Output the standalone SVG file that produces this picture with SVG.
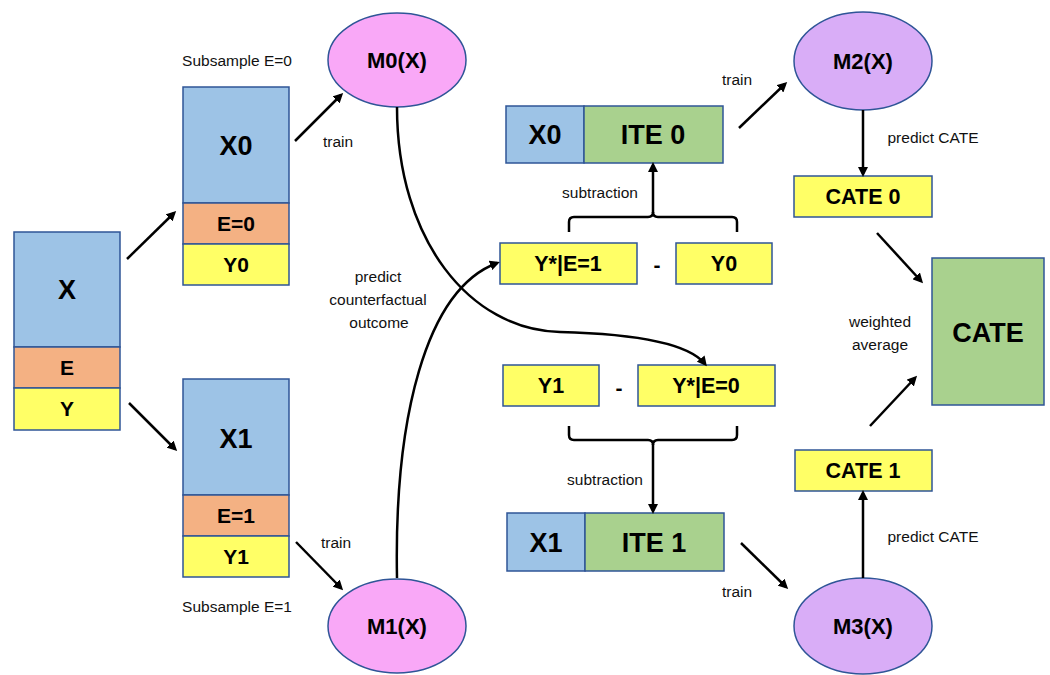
<svg xmlns="http://www.w3.org/2000/svg" width="1050" height="675" viewBox="0 0 1050 675">
<defs>
<style>
.bl{fill:#9DC3E6;stroke:#2F5597;stroke-width:1.5}
.or{fill:#F4B183;stroke:#2F5597;stroke-width:1.5}
.ye{fill:#FFFF66;stroke:#2F5597;stroke-width:1.5}
.gr{fill:#A9D18E;stroke:#2F5597;stroke-width:1.5}
.pk{fill:#F9A8F7;stroke:#2F5597;stroke-width:1.5}
.pu{fill:#D9ADF7;stroke:#2F5597;stroke-width:1.5}
.b{font-family:"Liberation Sans",Arial,sans-serif;font-weight:bold;fill:#000;text-anchor:middle}
.t{font-family:"Liberation Sans",Arial,sans-serif;font-size:15.5px;fill:#111;text-anchor:middle}
.c{fill:none;stroke:#000;stroke-width:2.5}
.a{fill:none;stroke:#000;stroke-width:2.5;marker-end:url(#ah)}
</style>
<marker id="ah" markerWidth="10" markerHeight="10" refX="7" refY="5" orient="auto" markerUnits="userSpaceOnUse" viewBox="0 0 10 10">
<path d="M0,0 L10,5 L0,10 Z" fill="#000"/>
</marker>
</defs>

<g id="data">
<rect class="bl" x="14" y="232" width="106" height="115"/>
<rect class="or" x="14" y="347" width="106" height="41"/>
<rect class="ye" x="14" y="388" width="106" height="42"/>
<text class="b" x="67" y="299" font-size="27">X</text>
<text class="b" x="67" y="375" font-size="21">E</text>
<text class="b" x="67" y="416" font-size="21">Y</text>
</g>

<g id="sub0">
<rect class="bl" x="183" y="87" width="106" height="116"/>
<rect class="or" x="183" y="203" width="106" height="41"/>
<rect class="ye" x="183" y="244" width="106" height="41"/>
<text class="b" x="236" y="155" font-size="27">X0</text>
<text class="b" x="236" y="231" font-size="21">E=0</text>
<text class="b" x="236" y="272" font-size="21">Y0</text>
<text class="t" x="237" y="66">Subsample E=0</text>
</g>

<g id="sub1">
<rect class="bl" x="183" y="379" width="106" height="116"/>
<rect class="or" x="183" y="495" width="106" height="41"/>
<rect class="ye" x="183" y="536" width="106" height="41"/>
<text class="b" x="236" y="448" font-size="27">X1</text>
<text class="b" x="236" y="523" font-size="21">E=1</text>
<text class="b" x="236" y="564" font-size="21">Y1</text>
<text class="t" x="237" y="612">Subsample E=1</text>
</g>

<g id="m0">
<ellipse class="pk" cx="397" cy="60" rx="69" ry="47"/>
<text class="b" x="397" y="68" font-size="22">M0(X)</text>
</g>
<g id="m1">
<ellipse class="pk" cx="397" cy="626" rx="69" ry="47"/>
<text class="b" x="397" y="634" font-size="22">M1(X)</text>
</g>
<g id="m2">
<ellipse class="pu" cx="863" cy="61" rx="69" ry="49"/>
<text class="b" x="863" y="69" font-size="22">M2(X)</text>
</g>
<g id="m3">
<ellipse class="pu" cx="863" cy="626" rx="69" ry="48"/>
<text class="b" x="863" y="634" font-size="22">M3(X)</text>
</g>

<g id="ite0">
<rect class="bl" x="506" y="106" width="78" height="57"/>
<rect class="gr" x="584" y="106" width="139" height="57"/>
<text class="b" x="545" y="144" font-size="27">X0</text>
<text class="b" x="653" y="144" font-size="27">ITE 0</text>
</g>
<g id="ite1">
<rect class="bl" x="507" y="513" width="78" height="58"/>
<rect class="gr" x="585" y="513" width="139" height="58"/>
<text class="b" x="546" y="552" font-size="27">X1</text>
<text class="b" x="654" y="552" font-size="27">ITE 1</text>
</g>

<g id="ystar1">
<rect class="ye" x="500" y="243" width="137" height="41"/>
<text class="b" x="568" y="271" font-size="21.5">Y*|E=1</text>
</g>
<g id="y0">
<rect class="ye" x="676" y="243" width="96" height="41"/>
<text class="b" x="724" y="271" font-size="21.5">Y0</text>
</g>
<g id="y1">
<rect class="ye" x="503" y="365" width="96" height="41"/>
<text class="b" x="551" y="393" font-size="21.5">Y1</text>
</g>
<g id="ystar0">
<rect class="ye" x="638" y="365" width="137" height="41"/>
<text class="b" x="706" y="393" font-size="21.5">Y*|E=0</text>
</g>

<g id="cate0">
<rect class="ye" x="794" y="176" width="138" height="41"/>
<text class="b" x="863" y="204" font-size="21.5">CATE 0</text>
</g>
<g id="cate1">
<rect class="ye" x="795" y="450" width="137" height="41"/>
<text class="b" x="863" y="478" font-size="21.5">CATE 1</text>
</g>
<g id="cate">
<rect class="gr" x="932" y="258" width="112" height="147"/>
<text class="b" x="988" y="342" font-size="27">CATE</text>
</g>

<g id="connectors">
<line class="a" x1="127" y1="259" x2="174" y2="213"/>
<line class="a" x1="129" y1="403" x2="175" y2="449"/>
<line class="a" x1="295" y1="141" x2="341" y2="95"/>
<line class="a" x1="296" y1="542" x2="341" y2="588"/>
<path class="a" d="M397,107 C397,240 470,330 560,332 C640,334 690,345 705,364"/>
<path class="a" d="M397,578 C394,420 425,290 497,263"/>
<path class="c" d="M569,232 V222 Q569,217 574,217 H648 Q653,217 653,212 Q653,217 658,217 H732 Q737,217 737,222 V232"/>
<line class="a" x1="653" y1="213" x2="653" y2="165"/>
<path class="c" d="M569,426 V435 Q569,440 574,440 H648 Q653,440 653,445 Q653,440 658,440 H732 Q737,440 737,435 V426"/>
<line class="a" x1="653" y1="444" x2="653" y2="511"/>
<line class="a" x1="739" y1="128" x2="785" y2="84"/>
<line class="a" x1="741" y1="543" x2="786" y2="587"/>
<line class="a" x1="863" y1="110" x2="863" y2="174"/>
<line class="a" x1="863" y1="578" x2="863" y2="493"/>
<line class="a" x1="877" y1="233" x2="921" y2="281"/>
<line class="a" x1="870" y1="426" x2="915" y2="378"/>
</g>

<g id="labels">
<text class="t" x="338" y="147">train</text>
<text class="t" x="336" y="548">train</text>
<text class="t" x="737" y="85">train</text>
<text class="t" x="737" y="597">train</text>
<text class="t" x="378" y="282">predict</text>
<text class="t" x="378" y="305">counterfactual</text>
<text class="t" x="379" y="328">outcome</text>
<text class="t" x="600" y="198">subtraction</text>
<text class="t" x="605" y="485">subtraction</text>
<text class="t" x="933" y="143">predict CATE</text>
<text class="t" x="933" y="542">predict CATE</text>
<text class="t" x="880" y="327">weighted</text>
<text class="t" x="880" y="350">average</text>
<text class="b" x="657" y="272" font-size="21">-</text>
<text class="b" x="619" y="395" font-size="21">-</text>
</g>
</svg>
